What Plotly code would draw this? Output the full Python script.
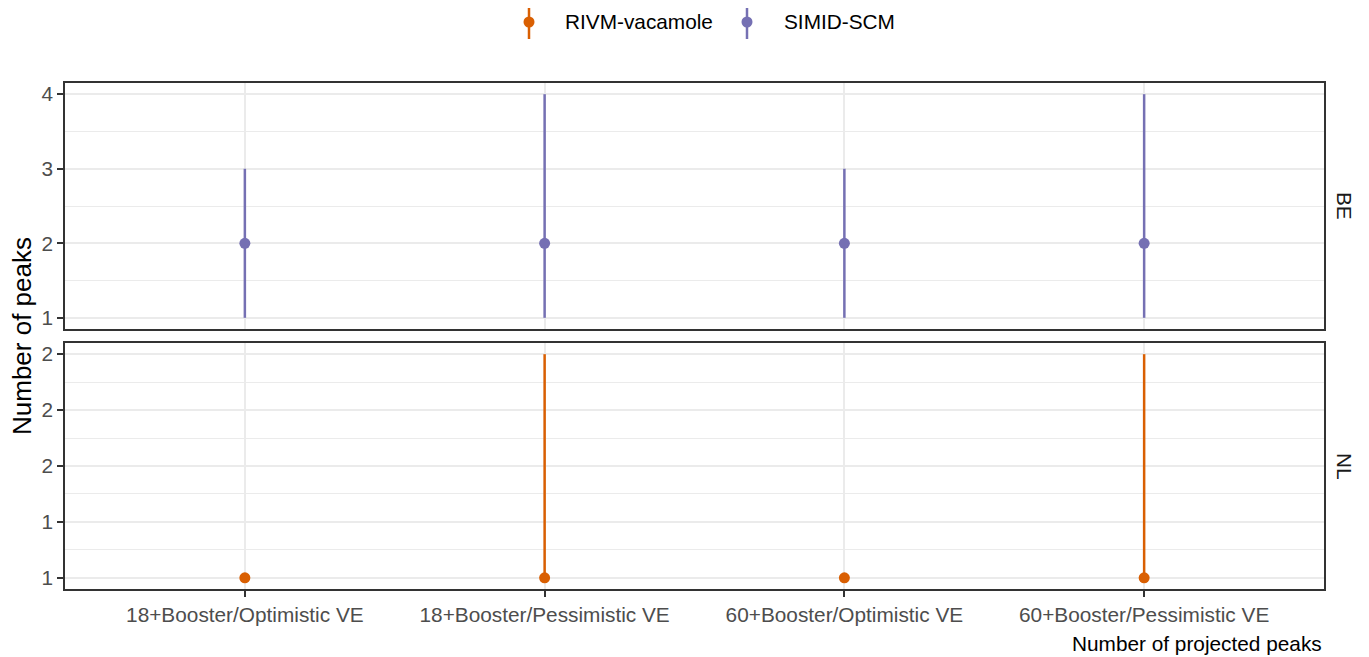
import plotly.graph_objects as go

# ---------------- data ----------------
scenarios = ["18+Booster/Optimistic VE", "18+Booster/Pessimistic VE",
             "60+Booster/Optimistic VE", "60+Booster/Pessimistic VE"]

be_model = "SIMID-SCM"
be_median = [2, 2, 2, 2]
be_lower = [1, 1, 1, 1]
be_upper = [3, 4, 3, 4]

nl_model = "RIVM-vacamole"
nl_median = [1, 1, 1, 1]
nl_lower = [1, 1, 1, 1]
nl_upper = [1, 2, 1, 2]

be_ticks = [1, 2, 3, 4]
be_ticklabels = ["1", "2", "3", "4"]
nl_ticks = [1.0, 1.25, 1.5, 1.75, 2.0]
nl_ticklabels = ["1", "1", "2", "2", "2"]

colors = {"RIVM-vacamole": "#D95F02", "SIMID-SCM": "#7570B3"}
legend_models = ["RIVM-vacamole", "SIMID-SCM"]

# ---------------- figure ----------------
W, H = 1369, 657          # browser window
OFF = 8                   # page body margin
FW, FH = W - OFF, H - OFF
FONT = "Liberation Sans, Arial, Helvetica, sans-serif"
TICK_SIZE = 20.8


def px(x):
    return (x - OFF) / FW


def py(y):
    return 1 - (y - OFF) / FH


fig = go.Figure()


def add_panel(med, lo, hi, model, xa, ya):
    fig.add_trace(go.Scatter(
        x=scenarios, y=med, mode="markers", xaxis=xa, yaxis=ya,
        marker=dict(color=colors[model], size=11),
        error_y=dict(type="data", symmetric=False,
                     array=[h - m for h, m in zip(hi, med)],
                     arrayminus=[m - l for m, l in zip(med, lo)],
                     color=colors[model], thickness=2.5, width=0),
        showlegend=False, name=model))


add_panel(be_median, be_lower, be_upper, be_model, "x", "y")
add_panel(nl_median, nl_lower, nl_upper, nl_model, "x2", "y2")

x_dom = [px(65), px(1324)]
top_dom = [py(329), py(83)]
bot_dom = [py(589), py(343)]

common_x = dict(
    type="category", categoryorder="array", categoryarray=scenarios,
    range=[-0.6, 3.6], domain=x_dom, showgrid=True, gridcolor="#EBEBEB",
    gridwidth=2, zeroline=False, showline=True, mirror=True,
    linecolor="#333333", linewidth=1.5,
    tickfont=dict(family=FONT, size=TICK_SIZE, color="#4D4D4D"),
)
common_y = dict(
    showgrid=True, gridcolor="#EBEBEB", gridwidth=2, zeroline=False,
    showline=True, mirror=True, linecolor="#333333", linewidth=1.5,
    ticks="outside", ticklen=6, tickwidth=2, tickcolor="#333333",
    tickfont=dict(family=FONT, size=TICK_SIZE, color="#4D4D4D"),
    tickmode="array",
)

fig.update_layout(
    width=FW, height=FH,
    margin=dict(l=0, r=0, t=0, b=0),
    paper_bgcolor="white", plot_bgcolor="white",
    showlegend=False,
    font=dict(family=FONT),
    xaxis=dict(common_x, anchor="y", showticklabels=False, ticks=""),
    xaxis2=dict(common_x, anchor="y2", matches="x", showticklabels=True,
                ticks="outside", ticklen=6, tickwidth=2, tickcolor="#333333"),
    yaxis=dict(common_y, domain=top_dom, anchor="x", range=[0.85, 4.15],
               tickvals=be_ticks, ticktext=be_ticklabels,
               minor=dict(tickmode="array", tickvals=[1.5, 2.5, 3.5],
                          showgrid=True, gridcolor="#EBEBEB", gridwidth=1, ticks="")),
    yaxis2=dict(common_y, domain=bot_dom, anchor="x2", range=[0.95, 2.05],
                tickvals=nl_ticks, ticktext=nl_ticklabels,
                minor=dict(tickmode="array", tickvals=[1.125, 1.375, 1.625, 1.875],
                           showgrid=True, gridcolor="#EBEBEB", gridwidth=1, ticks="")),
)

annotations = [
    dict(text="Number of peaks", x=px(22), y=py(336), xref="paper", yref="paper",
         textangle=-90, showarrow=False, xanchor="center", yanchor="middle",
         font=dict(family=FONT, size=26, color="black")),
    dict(text="Number of projected peaks", x=px(1324), y=py(643),
         xref="paper", yref="paper", showarrow=False, xanchor="right", yanchor="middle",
         font=dict(family=FONT, size=TICK_SIZE, color="black")),
    dict(text="BE", x=px(1345), y=(top_dom[0] + top_dom[1]) / 2, xref="paper", yref="paper",
         textangle=90, showarrow=False, xanchor="center", yanchor="middle",
         font=dict(family=FONT, size=TICK_SIZE, color="#1A1A1A")),
    dict(text="NL", x=px(1345), y=(bot_dom[0] + bot_dom[1]) / 2, xref="paper", yref="paper",
         textangle=90, showarrow=False, xanchor="center", yanchor="middle",
         font=dict(family=FONT, size=TICK_SIZE, color="#1A1A1A")),
]

shapes = []
key_x = [529, 747]
text_x = [563, 782]
key_y = 22
for m, kx, tx in zip(legend_models, key_x, text_x):
    c = colors[m]
    shapes.append(dict(type="line", xref="paper", yref="paper",
                       x0=px(kx), x1=px(kx), y0=py(8), y1=py(39),
                       line=dict(color=c, width=2.5)))
    shapes.append(dict(type="circle", xref="paper", yref="paper",
                       xsizemode="pixel", ysizemode="pixel",
                       xanchor=px(kx), yanchor=py(key_y),
                       x0=-5.5, x1=5.5, y0=-5.5, y1=5.5,
                       fillcolor=c, line=dict(color=c, width=0)))
    annotations.append(dict(text=m, x=px(tx), y=py(key_y), xref="paper", yref="paper",
                            showarrow=False, xanchor="left", yanchor="middle",
                            font=dict(family=FONT, size=TICK_SIZE, color="black")))

fig.update_layout(annotations=annotations, shapes=shapes)

fig.write_html("out.html")
